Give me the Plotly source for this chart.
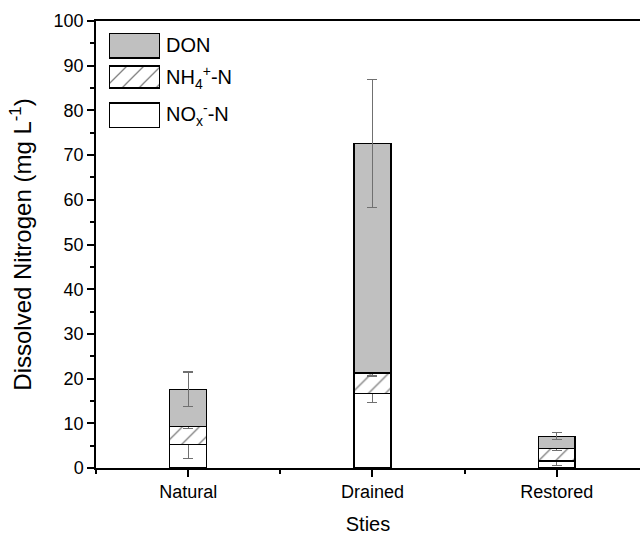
import plotly.graph_objects as go

# ---- data ----
sites = ["Natural", "Drained", "Restored"]
site_pos = [1, 2, 3]
nox = [5.3, 16.7, 1.6]
nox_err = [3.2, 2.0, 1.0]
nh4 = [4.0, 4.5, 2.8]
nh4_err = [0.4, 0.6, 0.5]
don = [8.3, 51.4, 2.7]
don_err = [3.9, 14.3, 0.8]
legend_names = ["DON", "NH<sub>4</sub><sup>+</sup>-N", "NO<sub>x</sub><sup>-</sup>-N"]

FONT = "Liberation Sans, Arial, sans-serif"
W, H = 640, 535
L, R, T, B = 96, 0, 21, 67
pw, ph = W - L - R, H - T - B

def px2x(px):
    return (px - L) / pw

def py2y(py):
    return (H - B - py) / ph

err_style = dict(type="data", color="#707070", thickness=1.3, width=5)
bar_line = dict(color="black", width=1.5)
bw = 0.2

fig = go.Figure()
fig.add_trace(go.Bar(x=site_pos, y=nox, width=bw, name="NOx",
                     marker=dict(color="white", line=bar_line),
                     error_y=dict(array=nox_err, **err_style), showlegend=False))
fig.add_trace(go.Bar(x=site_pos, y=nh4, width=bw, name="NH4",
                     marker=dict(color="white", line=bar_line,
                                 pattern=dict(shape="/", fgcolor="black", bgcolor="white",
                                              size=12, solidity=0.11)),
                     error_y=dict(array=nh4_err, **err_style), showlegend=False))
fig.add_trace(go.Bar(x=site_pos, y=don, width=bw, name="DON",
                     marker=dict(color="#c0c0c0", line=bar_line),
                     error_y=dict(array=don_err, **err_style), showlegend=False))

# ---- custom legend swatches on a small overlay axis (pixel-like units) ----
sw_x0, sw_x1 = 109, 160
sw_top, sw_bot = 33, 128
sw_base = [70, 40, 0]
sw_h = [25, 22, 25]
sw_fill = ["#c0c0c0", "white", "white"]
sw_pat = ["", "/", ""]
for i in range(3):
    fig.add_trace(go.Bar(x=[0], y=[sw_h[i]], base=[sw_base[i]], width=1,
                         xaxis="x2", yaxis="y2", showlegend=False, hoverinfo="skip",
                         marker=dict(color=sw_fill[i], line=dict(color="black", width=1.2),
                                     pattern=dict(shape=sw_pat[i], fgcolor="black",
                                                  bgcolor=sw_fill[i], size=12, solidity=0.11))))
label_py = [45, 77, 114]
for name, py in zip(legend_names, label_py):
    fig.add_annotation(x=px2x(164), y=py2y(py), xref="paper", yref="paper",
                       text=name, showarrow=False, xanchor="left", yanchor="middle",
                       font=dict(family=FONT, size=20, color="black"))

fig.update_layout(
    width=W, height=H,
    margin=dict(l=L, r=R, t=T, b=B, pad=0),
    barmode="stack",
    plot_bgcolor="white", paper_bgcolor="white",
    font=dict(family=FONT, size=18, color="black"),
    xaxis=dict(range=[0.5, 0.5 + pw / 184.3], tickvals=site_pos, ticktext=sites,
               automargin=False,
               showline=True, linecolor="black", linewidth=1.5, mirror=True,
               ticks="outside", ticklen=7, tickwidth=1.5, tickcolor="black",
               minor=dict(tick0=0.5, dtick=1, ticks="outside", ticklen=4,
                          tickwidth=1.5, tickcolor="black"),
               showgrid=False, zeroline=False,
               tickfont=dict(size=18),
               title=dict(text="Sties", font=dict(size=20), standoff=16)),
    yaxis=dict(range=[0, 100], dtick=10, showline=True, linecolor="black", linewidth=1.5,
               automargin=False,
               ticks="outside", ticklen=7, tickwidth=1.5, tickcolor="black",
               minor=dict(dtick=5, ticks="outside", ticklen=4, tickwidth=1.5,
                          tickcolor="black"),
               showgrid=False, zeroline=False,
               tickfont=dict(size=18),
               title=dict(text="Dissolved Nitrogen (mg L<sup>-1</sup>)",
                          font=dict(size=24), standoff=15)),
    xaxis2=dict(domain=[px2x(sw_x0), px2x(sw_x1)], range=[-0.5, 0.5], anchor="y2",
                visible=False, fixedrange=True),
    yaxis2=dict(domain=[py2y(sw_bot), py2y(sw_top)], range=[0, sw_bot - sw_top],
                anchor="x2", visible=False, fixedrange=True),
)

fig.write_html("out.html", config={"displayModeBar": False},
               post_script="document.body.style.margin='0';document.body.style.overflow='hidden';")
